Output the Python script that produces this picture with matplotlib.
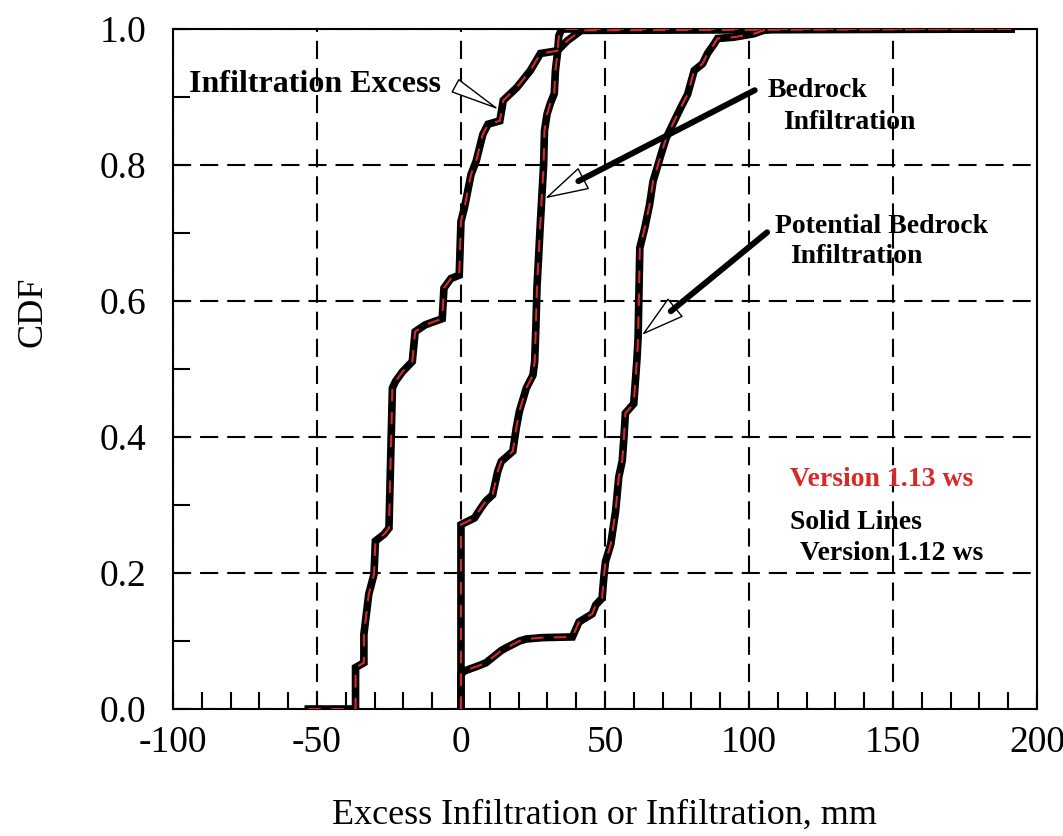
import numpy as np
import matplotlib
matplotlib.use("Agg")
import matplotlib.pyplot as plt

plt.rcParams['font.family'] = ['Liberation Serif', 'DejaVu Serif']
plt.rcParams['axes.unicode_minus'] = False

# CDF curves (mm, cumulative fraction)
excess_x = [-53, -36.6, -36.6, -33.7, -33.7, -32, -30.2, -29.7, -26.7, -25, -23.8,
            -22.7, -20.3, -16.9, -15.9, -12.4, -6.5, -5.9, -3.5, -0.6, 0, 1.2, 3.5,
            5.3, 7.6, 9.4, 13.5, 14.7, 19.4, 24.1, 27.6, 33.5, 37, 41.8, 191]
excess_y = [0, 0, 0.061, 0.068, 0.11, 0.169, 0.198, 0.247, 0.257, 0.266, 0.472,
            0.482, 0.496, 0.511, 0.555, 0.565, 0.574, 0.619, 0.633, 0.638, 0.717, 0.737, 0.786,
            0.806, 0.845, 0.86, 0.865, 0.895, 0.914, 0.939, 0.964, 0.968, 0.983, 0.998, 1.0]

bedrock_x = [0, 0, 4.7, 7, 8.7, 11, 12.8, 14, 18, 19.2, 20.3, 22.7, 25, 25.6, 26.0,
             26.4, 27.0, 27.6, 28.7, 29.0, 29.9, 31.0, 32.4, 32.8, 33.5, 34.0, 35.0, 191]
bedrock_y = [0, 0.271, 0.281, 0.296, 0.306, 0.315, 0.35, 0.364, 0.379, 0.413, 0.438,
             0.472, 0.491, 0.511, 0.56, 0.62, 0.668, 0.717, 0.80, 0.85, 0.875, 0.89,
             0.905, 0.939, 0.964, 0.99, 1.0, 1.0]

potential_x = [0, 0, 1.2, 6.4, 8.7, 14, 15.7, 20.3, 22.7, 28.4, 38.7, 41, 45.6, 46.8,
               49, 49.7, 50.2, 52, 53.7, 54.8, 56, 56.6, 57.1, 60, 60.6, 61.1, 61.5,
               62.1, 63.8, 65.5, 66.7, 68.4, 69.5, 71.3, 74.1, 76.4, 78.7, 81, 83.9,
               85.6, 87.9, 89.1, 94.8, 101.7, 105, 108.6, 191]
potential_y = [0, 0.051, 0.056, 0.064, 0.068, 0.086, 0.09, 0.1, 0.103, 0.105, 0.106,
               0.128, 0.14, 0.153, 0.163, 0.198, 0.217, 0.242, 0.291, 0.341, 0.365,
               0.40, 0.435, 0.449, 0.484, 0.514, 0.545, 0.678, 0.707, 0.742, 0.776,
               0.80, 0.816, 0.84, 0.865, 0.885, 0.904, 0.939, 0.949, 0.964, 0.978,
               0.986, 0.988, 0.993, 0.998, 1.0, 1.0]

series = [(excess_x, excess_y), (bedrock_x, bedrock_y), (potential_x, potential_y)]
red = '#d62a2a'

fig = plt.figure(figsize=(10.63, 8.36), dpi=100)
ax = fig.add_axes([0.1627, 0.1519, 0.8128, 0.8134])

for xs, ys in series:
    ax.plot(xs, ys, color='black', lw=5.5, solid_joinstyle='miter', zorder=3)
for xs, ys in series:
    ax.plot(xs, ys, color=red, lw=1.5, dashes=(6, 5), zorder=4)

ax.set_xlim(-100, 200)
ax.set_ylim(0, 1)
ax.set_xticks(np.arange(-100, 201, 50))
ax.set_xticks(np.arange(-100, 201, 10), minor=True)
ax.set_yticks(np.arange(0, 1.01, 0.2))
ax.set_yticks(np.arange(0, 1.01, 0.1), minor=True)
ax.set_yticklabels(['0.0', '0.2', '0.4', '0.6', '0.8', '1.0'])
ax.tick_params(which='both', direction='in', length=12, width=1.5, top=False, right=False,
               labelsize=27, color='black')
ax.tick_params(axis='y', pad=19)
ax.tick_params(axis='x', pad=12)
ax.grid(True, which='major', color='black', lw=1.5, dashes=(8.7, 4.3))
for s in ax.spines.values():
    s.set_linewidth(1.5)

ax.set_xlabel('Excess Infiltration or Infiltration, mm', fontsize=26)
ax.xaxis.set_label_coords(0.5, -0.156)
ax.xaxis.label.set_va('center')
ax.set_ylabel('CDF', fontsize=26)
ax.yaxis.set_label_coords(-0.162, 0.584)
ax.yaxis.label.set_va('center')

bold = dict(fontweight='bold', va='center', ha='left', zorder=6)
ax.text(-94.3, 0.918, 'Infiltration Excess', fontsize=23, **bold)
ax.text(106.6, 0.91, 'Bedrock', fontsize=20, **bold)
ax.text(111.8, 0.863, 'Infiltration', fontsize=20, **bold)
ax.text(109.0, 0.709, 'Potential Bedrock', fontsize=20, **bold)
ax.text(114.2, 0.666, 'Infiltration', fontsize=20, **bold)
ax.text(114.2, 0.337, 'Version 1.13 ws', fontsize=20, color=red, **bold)
ax.text(114.2, 0.275, 'Solid Lines', fontsize=20, **bold)
ax.text(117.7, 0.229, 'Version 1.12 ws', fontsize=20, **bold)

# open-headed arrows
head = dict(lw=1.0, fc='white', ec='black', mutation_scale=10, shrinkA=0, shrinkB=0)
ax.annotate('', xy=(13.5, 0.881), xytext=(-0.4, 0.913),
            arrowprops=dict(arrowstyle='-|>,head_length=3.3,head_width=0.5', **head),
            zorder=7)
for tip, tail in [((29.2, 0.751), (102.0, 0.91)), ((62.8, 0.55), (106.3, 0.701))]:
    ax.annotate('', xy=tip, xytext=tail,
                arrowprops=dict(arrowstyle='-|>,head_length=2.9,head_width=0.8', **head),
                zorder=7)
    ax.annotate('', xy=tip, xytext=tail,
                arrowprops=dict(arrowstyle='-', lw=4.3, color='black', capstyle='round',
                                shrinkA=0, shrinkB=27),
                zorder=7)

fig.savefig('out.png', dpi=100)
